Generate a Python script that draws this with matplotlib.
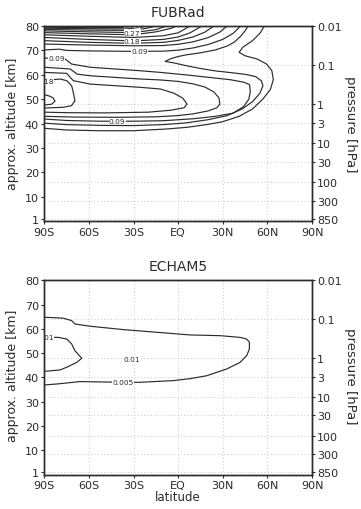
import numpy as np
import matplotlib
matplotlib.use("Agg")
import matplotlib.pyplot as plt

# scale height used for the approx. altitude <-> pressure axis
H = 6.95

lat_ticks = [-90, -60, -30, 0, 30, 60, 90]
lat_labels = ["90S", "60S", "30S", "EQ", "30N", "60N", "90N"]
alt_ticks = [1, 10, 20, 30, 40, 50, 60, 70, 80]
p_ticks = [0.01, 0.1, 1, 3, 10, 30, 100, 300, 850]
p_labels = ["0.01", "0.1", "1", "3", "10", "30", "100", "300", "850"]

# ---- FUBRad contours, (lat, approx. altitude km)
fub_003 = [(-90, 38.1), (-75, 37.4), (-53, 37.1), (-30, 37.1), (-8, 37.8), (6, 38.5),
           (19, 39.6), (30, 40.8), (41, 43.0), (50, 46.0), (57, 50.1), (62, 54.0),
           (64, 58.0), (63, 61.7), (59.5, 64.4), (53, 66.5), (45, 67.8), (41, 69.2),
           (43.5, 71.3), (50, 74.0), (55, 77.0), (58, 80)]
fub_006 = [(-90, 40.2), (-75, 39.6), (-53, 39.3), (-30, 39.2), (-10, 39.6), (5, 40.3),
           (20, 41.6), (33, 43.3), (43, 46.0), (50, 49.0), (55, 52.5), (57, 55.5),
           (56, 57.5), (52, 59.3), (45, 60.2), (37, 60.8), (25, 61.6), (15, 62.6),
           (5, 63.8), (-3, 64.9), (-8.7, 65.5), (-5, 66.6), (0, 67.5), (5.6, 68.2),
           (15, 69.0), (25, 70.2), (33, 71.8), (38, 73.5), (42, 75.8), (45, 78), (47, 80)]
fub_009 = [(-90, 41.9), (-75, 41.3), (-53, 41.0), (-30, 41.0), (-10, 41.2), (10, 42.0),
           (25, 43.0), (37, 44.3), (44, 47.0), (47.5, 50.0), (48.5, 53.0), (48, 56.0),
           (44, 57.0), (35, 58.0), (20, 59.0), (5, 60.0), (-12, 61.0), (-26, 61.7),
           (-59, 63.1), (-71.6, 64.4), (-76, 66.5), (-90, 66.9)]
fub_012 = [(-90, 43.0), (-70, 42.7), (-40, 42.6), (-15, 42.8), (0, 43.3), (10, 44.0),
           (20, 45.2), (26, 46.5), (28, 48.0), (27.5, 50.5), (24, 53.0), (18, 55.0),
           (10, 56.3), (0, 57.3), (-12, 57.9), (-26, 58.3), (-59, 59.6), (-68, 60.3),
           (-72.6, 62.4), (-90, 63.1)]
fub_015 = [(-90, 44.7), (-75, 44.5), (-50, 44.4), (-20, 44.7), (-5, 45.5), (4, 46.5),
           (6, 48.0), (3, 50.5), (-3, 52.5), (-12, 54.2), (-26, 54.9), (-59, 56.2),
           (-70.5, 57.6), (-75, 60.6), (-90, 61.0)]
fub_018 = [(-90, 57.6), (-79.4, 58.3), (-74.9, 57.6), (-71.6, 55.5), (-70.5, 52.8),
           (-69.4, 49.4), (-71.6, 47.4), (-77.2, 46.7), (-90, 46.4)]
fub_021 = [(-90, 51.9), (-86, 51.2), (-84, 50.5), (-82.8, 49.2), (-85, 48.0), (-90, 47.6)]
# upper (mesospheric) branches
fub_009u = [(-90, 70.2), (-80, 70.5), (-75, 70.0), (-60, 69.8), (-30, 69.6), (-10, 69.7),
            (0, 70.1), (10, 71.0), (20, 72.4), (30, 74.5), (37, 77), (42, 80)]
fub_012u = [(-90, 72.6), (-60, 72.2), (-30, 71.9), (-10, 72.0), (0, 72.5), (10, 73.5),
            (20, 75.2), (28, 77.5), (33, 80)]
fub_015u = [(-90, 74.0), (-60, 73.3), (-30, 72.9), (-10, 73.3), (0, 74.1), (10, 75.5),
            (18, 77.5), (24, 80)]
fub_018u = [(-90, 75.3), (-60, 74.5), (-30, 73.9), (-10, 74.5), (0, 75.5), (8, 77.2), (16, 80)]
fub_021u = [(-90, 76.4), (-60, 75.8), (-30, 75.3), (-10, 76.0), (0, 77.2), (8, 80)]
fub_024u = [(-90, 77.3), (-60, 76.8), (-30, 76.4), (-15, 77.6), (-5, 79), (-1, 80)]
fub_027u = [(-90, 78.0), (-60, 77.6), (-30, 77.3), (-15, 78.5), (-8, 80)]
fub_030u = [(-90, 78.6), (-60, 78.3), (-30, 78.2), (-20, 79.2), (-15, 80)]
fub_033u = [(-90, 79.1), (-60, 78.9), (-35, 78.8), (-25, 79.5), (-21, 80)]
fub_036u = [(-90, 79.5), (-60, 79.3), (-35, 79.4), (-28, 80)]
fub_039u = [(-90, 79.9), (-60, 79.7), (-45, 80)]

fub_labels = [("0.36", -31, 80.3), ("0.27", -31, 77.3), ("0.18", -31, 73.9),
              ("0.09", -25.7, 69.6), ("0.09", -81.5, 66.8), ("0.18", -89, 57.6),
              ("0.09", -41, 41.0)]

# ---- ECHAM5 contours
ech_0005 = [(-90, 36.9), (-81.7, 37.3), (-70.5, 38.0), (-66, 38.3), (-37, 38.0),
            (-25.6, 38.0), (-3.2, 38.7), (8, 39.5), (19.2, 40.7), (32.7, 43.5),
            (41.6, 46.2), (46.1, 49.0), (47.9, 51.7), (47.9, 54.5), (46.1, 55.8),
            (41.6, 56.5), (28.2, 57.2), (8, 57.5), (-14.4, 58.6), (-36.9, 59.7),
            (-59.3, 61.1), (-69.4, 62.0), (-71.6, 63.4), (-77.2, 64.4), (-90, 64.8)]
ech_001 = [(-90, 56.5), (-80.5, 56.5), (-74.9, 55.8), (-71.6, 53.8), (-69.4, 51.0),
           (-64.8, 47.9), (-68.2, 46.2), (-74.9, 44.2), (-79.4, 43.1), (-90, 42.5)]

ech_labels = [("0.005", -36.9, 38.0), ("0.01", -31.2, 47.6), ("0.01", -89, 56.5)]

INK = "#2b2b2b"


def p2z(p):
    return H * np.log(1000.0 / p)


def draw_panel(ax, lines, labels):
    ax.set_xlim(-90, 90)
    ax.set_ylim(0, 80)
    for p in p_ticks[1:]:
        ax.axhline(p2z(p), ls=(0, (1, 3)), color="#b4b4b4", lw=0.6, zorder=1)
    for lt in lat_ticks[1:-1]:
        ax.axvline(lt, ls=(0, (1, 3)), color="#b4b4b4", lw=0.6, zorder=1)
    for c in lines:
        xs, ys = zip(*c)
        ax.plot(xs, ys, color=INK, lw=0.85, zorder=2, clip_on=True)
    for txt, x, y in labels:
        t = ax.text(x, y, txt, fontsize=5.3, ha="center", va="center", color=INK,
                    bbox=dict(fc="white", ec="none", pad=0.1), zorder=2.2, clip_on=True)
        t.set_clip_box(ax.bbox)

    ax.set_xticks(lat_ticks)
    ax.set_xticklabels(lat_labels)
    ax.set_yticks(alt_ticks)
    ax.tick_params(direction="out", length=2.3, width=0.8, labelsize=8, pad=1.5,
                   colors=INK)
    for s in ax.spines.values():
        s.set_linewidth(1.0)
        s.set_color(INK)

    ax2 = ax.twinx()
    ax2.set_ylim(0, 80)
    ax2.set_yticks([p2z(p) for p in p_ticks])
    ax2.set_yticklabels(p_labels)
    ax2.tick_params(direction="out", length=2.3, width=0.8, labelsize=8, pad=1.5,
                    colors=INK)
    for s in ax2.spines.values():
        s.set_linewidth(1.0)
        s.set_color(INK)


W, Hpx = 361, 510
fig = plt.figure(figsize=(W / 100, Hpx / 100), dpi=100)

ax_top = fig.add_axes([44.3 / W, 1 - 222.3 / Hpx, 267.7 / W, 195.3 / Hpx])
draw_panel(ax_top, [fub_003, fub_006, fub_009, fub_012, fub_015, fub_018, fub_021,
                    fub_009u, fub_012u, fub_015u, fub_018u, fub_021u, fub_024u,
                    fub_027u, fub_030u, fub_033u, fub_036u, fub_039u], fub_labels)

ax_bot = fig.add_axes([44.3 / W, 1 - 475.6 / Hpx, 267.7 / W, 194.3 / Hpx])
draw_panel(ax_bot, [ech_0005, ech_001], ech_labels)

fig.text(178 / W, 1 - 13.3 / Hpx, "FUBRad", ha="center", va="center", fontsize=10, color=INK)
fig.text(178 / W, 1 - 267.3 / Hpx, "ECHAM5", ha="center", va="center", fontsize=10, color=INK)
for yc in (124.0, 376.0):
    fig.text(12.5 / W, 1 - yc / Hpx, "approx. altitude [km]", rotation=90,
             ha="center", va="center", fontsize=9, color=INK)
    fig.text(350 / W, 1 - yc / Hpx, "pressure [hPa]", rotation=270,
             ha="center", va="center", fontsize=9.5, color=INK)
fig.text(178 / W, 1 - 498 / Hpx, "latitude", ha="center", va="center", fontsize=8.5, color=INK)

fig.savefig("out.png", dpi=100)
